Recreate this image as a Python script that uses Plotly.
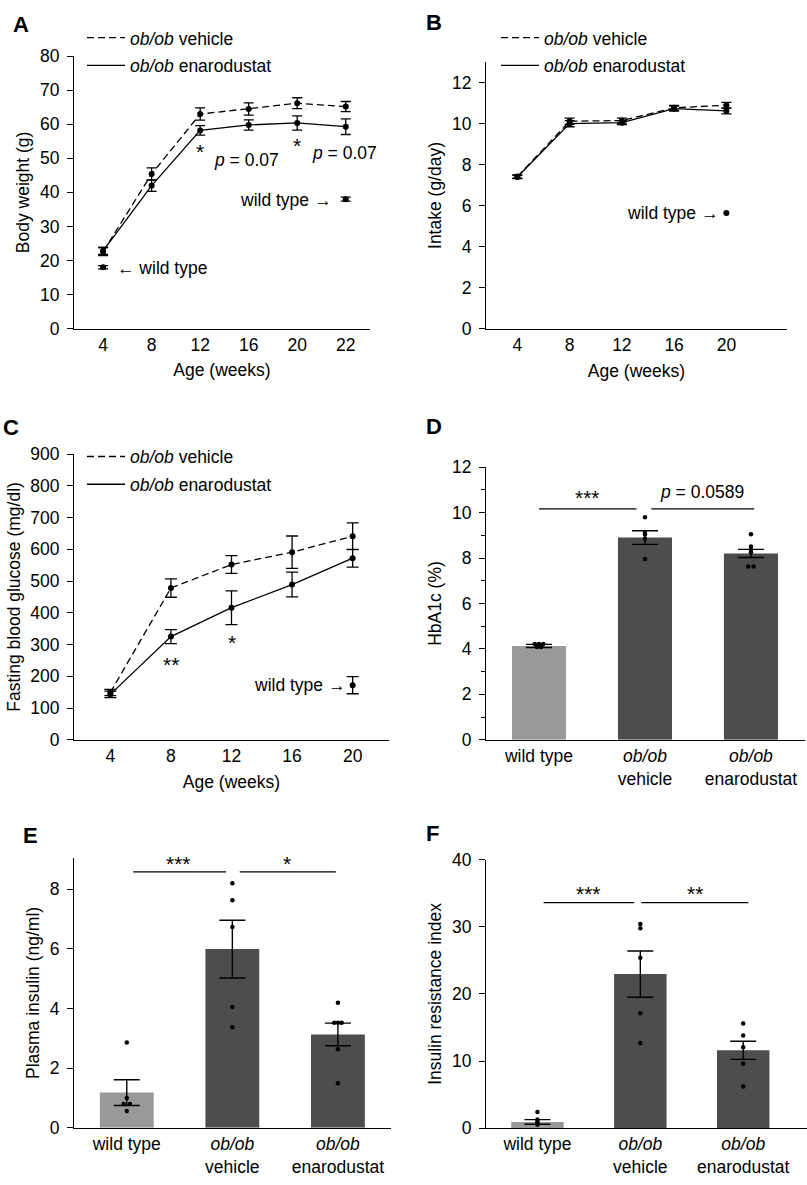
import plotly.graph_objects as go

W, H = 807, 1185
FONT = "Liberation Sans, Arial, Helvetica, sans-serif"
FS = 17.5
FS_STAR = 21

# ---------------- data ----------------
# Panel A: body weight
ages_A = ["4", "8", "12", "16", "20", "22"]
bw_vehicle = [22.6, 45.4, 63.0, 64.5, 66.2, 65.2]
bw_vehicle_sem = [1.2, 1.8, 1.8, 1.8, 1.6, 1.5]
bw_enaro = [22.8, 42.0, 58.2, 59.8, 60.4, 59.3]
bw_enaro_sem = [1.0, 1.7, 1.4, 1.5, 2.1, 2.3]
bw_wt_ages = ["4", "22"]
bw_wt = [18.0, 38.0]
bw_wt_sem = [0.5, 0.6]

# Panel B: food intake
ages_B = ["4", "8", "12", "16", "20"]
intake_vehicle = [7.42, 10.12, 10.15, 10.77, 10.9]
intake_vehicle_sem = [0.08, 0.15, 0.12, 0.12, 0.14]
intake_enaro = [7.40, 10.0, 10.05, 10.73, 10.62]
intake_enaro_sem = [0.08, 0.15, 0.10, 0.12, 0.14]
intake_wt_ages = ["20"]
intake_wt = [5.65]

# Panel C: fasting blood glucose
ages_C = ["4", "8", "12", "16", "20"]
glu_vehicle = [149, 478, 552, 591, 641]
glu_vehicle_sem = [10, 29, 28, 51, 42]
glu_enaro = [143, 325, 416, 489, 572]
glu_enaro_sem = [10, 22, 53, 39, 28]
glu_wt_ages = ["20"]
glu_wt = [172]
glu_wt_sem = [27]

# Bar panels
groups = ["wild type", "<i>ob/ob</i><br>vehicle", "<i>ob/ob</i><br>enarodustat"]
bar_colors = ["#999999", "#4d4d4d", "#4d4d4d"]

hba1c_mean = [4.13, 8.9, 8.2]
hba1c_sem = [0.07, 0.3, 0.18]
hba1c_pts = [[4.22, 4.22, 4.22, 4.08, 4.08],
             [9.8, 9.15, 9.05, 8.86, 7.96],
             [9.05, 8.51, 8.36, 8.25, 7.63, 7.63]]
hba1c_jit = [[-0.04, 0.0, 0.04, -0.02, 0.02],
             [0, 0, 0, 0, 0],
             [0, 0, 0, 0, -0.025, 0.025]]

insulin_mean = [1.18, 5.99, 3.13]
insulin_sem = [0.43, 0.97, 0.38]
insulin_pts = [[2.86, 1.0, 0.8, 0.8, 0.56],
               [8.2, 7.63, 6.73, 4.05, 3.37],
               [4.19, 3.52, 3.52, 3.52, 2.63, 1.49]]
insulin_jit = [[0, 0, -0.03, 0.03, 0],
               [0, 0, 0, 0, 0],
               [0, -0.035, 0.0, 0.035, 0, 0]]

homa_mean = [0.92, 22.95, 11.6]
homa_sem = [0.35, 3.44, 1.35]
homa_pts = [[2.4, 1.3, 1.0, 0.7, 0.5],
            [30.4, 29.8, 25.4, 17.1, 12.7],
            [15.6, 13.8, 12.05, 9.6, 6.2]]
homa_jit = [[0, 0, 0, 0, 0],
            [0, 0, 0, 0, 0],
            [0, 0, 0, 0, 0]]

# significance brackets: (x0, x1, y, label, label_x, label_y)
sig_D = [(0.0, 0.92, 10.16, "***", 0.46, 10.66), (1.06, 2.03, 10.16, "<i>p</i> = 0.0589", 1.54, 10.9)]
sig_E = [(0.06, 0.94, 8.58, "***", 0.49, 8.86), (1.07, 1.98, 8.58, "*", 1.52, 8.86)]
sig_F = [(0.06, 0.94, 33.6, "***", 0.50, 34.9), (1.01, 2.05, 33.6, "**", 1.53, 34.9)]

# ---------------- helpers ----------------
def dxp(a, b):
    return [a / W, b / W]

def dyp(top, bottom):
    return [1 - bottom / H, 1 - top / H]

fig = go.Figure()
BLACK = "black"
DASH = "7px,4px"

def line_trace(x, y, sem, dash, ax, cap=5):
    fig.add_trace(go.Scatter(
        x=x, y=y, mode="lines+markers", xaxis=ax[0], yaxis=ax[1],
        line=dict(color=BLACK, width=1.3, dash=dash),
        marker=dict(color=BLACK, size=6),
        error_y=dict(type="data", array=sem, visible=True, color=BLACK, thickness=1.3, width=cap),
        showlegend=False, hoverinfo="skip"))

def wt_trace(x, y, sem, ax, cap=5):
    err = dict(type="data", array=sem, visible=True, color=BLACK, thickness=1.3, width=cap) if sem else None
    fig.add_trace(go.Scatter(
        x=x, y=y, mode="markers", xaxis=ax[0], yaxis=ax[1],
        marker=dict(color=BLACK, size=6), error_y=err,
        showlegend=False, hoverinfo="skip"))

def legend_traces(ax, legend):
    fig.add_trace(go.Scatter(x=[None], y=[None], mode="lines", xaxis=ax[0], yaxis=ax[1],
                             line=dict(color=BLACK, width=1.3, dash=DASH),
                             name="<i>ob/ob</i> vehicle", legend=legend, legendgroup=legend + "a"))
    fig.add_trace(go.Scatter(x=[None], y=[None], mode="lines", xaxis=ax[0], yaxis=ax[1],
                             line=dict(color=BLACK, width=1.3),
                             name="<i>ob/ob</i> enarodustat", legend=legend, legendgroup=legend + "b"))

# Panel A
line_trace(ages_A, bw_vehicle, bw_vehicle_sem, DASH, ("x", "y"))
line_trace(ages_A, bw_enaro, bw_enaro_sem, "solid", ("x", "y"))
wt_trace(bw_wt_ages, bw_wt, bw_wt_sem, ("x", "y"))
legend_traces(("x", "y"), "legend")

# Panel B
line_trace(ages_B, intake_vehicle, intake_vehicle_sem, DASH, ("x2", "y2"))
line_trace(ages_B, intake_enaro, intake_enaro_sem, "solid", ("x2", "y2"))
wt_trace(intake_wt_ages, intake_wt, None, ("x2", "y2"))
legend_traces(("x2", "y2"), "legend2")

# Panel C
line_trace(ages_C, glu_vehicle, glu_vehicle_sem, DASH, ("x3", "y3"), cap=6)
line_trace(ages_C, glu_enaro, glu_enaro_sem, "solid", ("x3", "y3"), cap=6)
wt_trace(glu_wt_ages, glu_wt, glu_wt_sem, ("x3", "y3"), cap=6)
legend_traces(("x3", "y3"), "legend3")

# Bar panels
def bar_panel(mean, sem, pts, jit, sig, ax):
    fig.add_trace(go.Bar(
        x=list(range(len(groups))), y=mean, width=0.51, xaxis=ax[0], yaxis=ax[1],
        marker=dict(color=bar_colors, line=dict(width=0)),
        error_y=dict(type="data", array=sem, visible=True, color=BLACK, thickness=1.4, width=13),
        showlegend=False, hoverinfo="skip"))
    px, py = [], []
    for i, (vals, js) in enumerate(zip(pts, jit)):
        for v, j in zip(vals, js):
            px.append(i + j)
            py.append(v)
    fig.add_trace(go.Scatter(x=px, y=py, mode="markers", xaxis=ax[0], yaxis=ax[1],
                             marker=dict(color=BLACK, size=4.5), showlegend=False, hoverinfo="skip"))
    for x0, x1, y, lab, lx, ly in sig:
        fig.add_trace(go.Scatter(x=[x0, x1], y=[y, y], mode="lines", xaxis=ax[0], yaxis=ax[1],
                                 line=dict(color=BLACK, width=1.2), showlegend=False, hoverinfo="skip"))
        size = FS_STAR if set(lab) == {"*"} else FS
        fig.add_annotation(x=lx, y=ly, xref=ax[0], yref=ax[1], text=lab, showarrow=False,
                           font=dict(size=size, color=BLACK), xanchor="center", yanchor="middle")

bar_panel(hba1c_mean, hba1c_sem, hba1c_pts, hba1c_jit, sig_D, ("x4", "y4"))
bar_panel(insulin_mean, insulin_sem, insulin_pts, insulin_jit, sig_E, ("x5", "y5"))
bar_panel(homa_mean, homa_sem, homa_pts, homa_jit, sig_F, ("x6", "y6"))

# ---------------- axes ----------------
def yax(domain, rng, dtick, title, tickvals=None, minor=False):
    d = dict(domain=domain, range=rng, showline=True, linecolor=BLACK, linewidth=1.2,
             ticks="outside", ticklen=6, tickwidth=1.2, tickcolor=BLACK, showgrid=False,
             zeroline=False, tickfont=dict(size=FS, color=BLACK), dtick=dtick, tick0=0,
             ticklabelstandoff=4,
             title=dict(text=title, font=dict(size=FS, color=BLACK), standoff=5),
             fixedrange=True)
    if tickvals is not None:
        d["tickvals"] = tickvals
        d.pop("dtick")
    if minor:
        d["minor"] = dict(ticks="outside", ticklen=4, tickwidth=1, tickcolor=BLACK, dtick=1, showgrid=False)
    return d

def xcat(domain, rng, cats, anchor, title="Age (weeks)"):
    return dict(domain=domain, range=rng, type="category", categoryorder="array", categoryarray=cats,
                showline=True, linecolor=BLACK, linewidth=1.2, ticks="", showgrid=False,
                zeroline=False, tickfont=dict(size=FS, color=BLACK), anchor=anchor,
                title=dict(text=title, font=dict(size=FS, color=BLACK), standoff=10),
                fixedrange=True)

def xbar(domain, rng, anchor):
    return dict(domain=domain, range=rng, showline=True, linecolor=BLACK, linewidth=1.2, ticks="",
                showgrid=False, zeroline=False, tickvals=list(range(len(groups))), ticktext=groups,
                tickfont=dict(size=FS, color=BLACK), anchor=anchor, fixedrange=True,
                ticklabeloverflow="allow")

fig.update_layout(
    width=W, height=H, margin=dict(l=0, r=0, t=0, b=0),
    paper_bgcolor="white", plot_bgcolor="white",
    font=dict(family=FONT, size=FS, color=BLACK),
    bargap=0.5,
    xaxis=xcat(dxp(74, 370), [-0.6, 5.5], ages_A, "y"),
    yaxis=yax(dyp(47, 324), [0, 80], 10, "Body weight (g)"),
    xaxis2=xcat(dxp(486, 787), [-0.6, 5.16], ages_B, "y2"),
    yaxis2=yax(dyp(53, 324.3), [0, 13], None, "Intake (g/day)", tickvals=[0, 2, 4, 6, 8, 10, 12]),
    xaxis3=xcat(dxp(74, 389), [-0.6, 4.6], ages_C, "y3"),
    yaxis3=yax(dyp(451.7, 742.3), [0, 900], 100, "Fasting blood glucose (mg/dl)"),
    xaxis4=xbar(dxp(486, 805), [-0.5, 2.51], "y4"),
    yaxis4=yax(dyp(465, 742.3), [0, 12], 2, "HbA1c (%)", minor=True),
    xaxis5=xbar(dxp(74, 390.7), [-0.5, 2.5], "y5"),
    yaxis5=yax(dyp(862.7, 1137), [0, 9.04], None, "Plasma insulin (ng/ml)", tickvals=[0, 2, 4, 6, 8]),
    xaxis6=xbar(dxp(486, 807), [-0.5, 2.62], "y6"),
    yaxis6=yax(dyp(864.3, 1137.3), [0, 40], 10, "Insulin resistance index"),
)
for i in range(1, 7):
    key = "yaxis" if i == 1 else f"yaxis{i}"
    fig.layout[key].anchor = "x" if i == 1 else f"x{i}"

leg_common = dict(xanchor="left", yanchor="top", bgcolor="rgba(0,0,0,0)", borderwidth=0,
                  font=dict(size=FS, color=BLACK), tracegroupgap=2, itemwidth=38)
fig.update_layout(
    legend=dict(x=82 / W, y=1 - 10 / H, **leg_common),
    legend2=dict(x=496 / W, y=1 - 10 / H, **leg_common),
    legend3=dict(x=82 / W, y=1 - 436 / H, **leg_common),
)

# ---------------- annotations ----------------
def ann(text, x, y, xref, yref, xanchor="center", size=FS, bold=False):
    if bold:
        text = f"<b>{text}</b>"
    fig.add_annotation(text=text, x=x, y=y, xref=xref, yref=yref, showarrow=False,
                       xanchor=xanchor, yanchor="middle", font=dict(size=size, color=BLACK))

# panel letters
for lab, px_, py_ in [("A", 11, 15), ("B", 424, 13), ("C", 1, 425), ("D", 424, 424), ("E", 21, 840), ("F", 424, 838)]:
    ann(lab, px_ / W, 1 - py_ / H, "paper", "paper", xanchor="left", size=22, bold=True)

# Panel A
ann("*", 2, 52.0, "x", "y", size=FS_STAR)
ann("*", 4, 53.7, "x", "y", size=FS_STAR)
ann("<i>p</i> = 0.07", 2.96, 49.4, "x", "y")
ann("<i>p</i> = 0.07", 4.98, 51.7, "x", "y")
ann("wild type →", 4.73, 37.9, "x", "y", xanchor="right")
ann("← wild type", 0.25, 17.9, "x", "y", xanchor="left")
# Panel B
ann("wild type →", 3.88, 5.65, "x2", "y2", xanchor="right")
# Panel C
ann("**", 1, 238, "x3", "y3", size=FS_STAR)
ann("*", 2, 305, "x3", "y3", size=FS_STAR)
ann("wild type →", 3.91, 172, "x3", "y3", xanchor="right")

fig.write_html("out.html", config={"displayModeBar": False},
               post_script="document.body.style.margin='0';")
